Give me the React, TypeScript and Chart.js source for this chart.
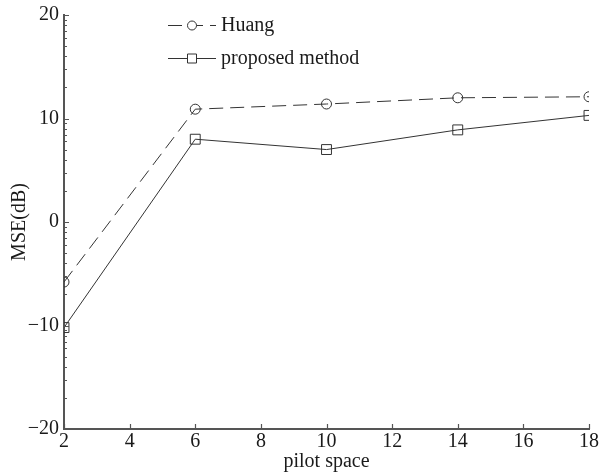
import React, { useEffect, useRef } from "react";
import { Chart, registerables } from "chart.js";

Chart.register(...registerables);

const pilotSpace = [2, 6, 10, 14, 18];
const huang = [-5.8, 10.9, 11.4, 12.0, 12.1];
const proposed = [-10.2, 8.0, 7.0, 8.9, 10.3];
const seriesNames = ["Huang", "proposed method"];
const xTicks = [2, 4, 6, 8, 10, 12, 14, 16, 18];
const yTicks = [-20, -10, 0, 10, 20];

const FONT = "'Liberation Serif', 'DejaVu Serif', serif";
const AXIS = "#555555";
const INK = "#1a1a1a";

const tickPlugin = {
  id: "matlabTicks",
  afterDraw(chart: any) {
    const ctx = chart.ctx;
    const x = chart.scales.x;
    const y = chart.scales.y;
    const area = chart.chartArea;
    ctx.save();
    ctx.strokeStyle = AXIS;
    ctx.lineWidth = 1.2;
    ctx.beginPath();
    xTicks.forEach((v) => {
      const px = Math.round(x.getPixelForValue(v)) + 0.5;
      ctx.moveTo(px, area.bottom);
      ctx.lineTo(px, area.bottom - 5);
    });
    for (let i = 0; i < yTicks.length; i++) {
      const py = Math.round(y.getPixelForValue(yTicks[i])) + 0.5;
      ctx.moveTo(area.left, py);
      ctx.lineTo(area.left + 5, py);
      if (i < yTicks.length - 1) {
        const lower = yTicks[i];
        const span = yTicks[i + 1] - yTicks[i];
        for (let n = 2; n <= 9; n++) {
          const mv = lower + span * Math.log10(n);
          const my = Math.round(y.getPixelForValue(mv)) + 0.5;
          ctx.moveTo(area.left, my);
          ctx.lineTo(area.left + 3, my);
        }
      }
    }
    ctx.stroke();

    // legend
    const items = chart.data.datasets;
    const lx0 = 168;
    const lx1 = 216;
    const rowY = [25, 58];
    items.forEach((ds: any, i: number) => {
      const yy = rowY[i] + 0.5;
      ctx.strokeStyle = ds.borderColor;
      ctx.lineWidth = ds.borderWidth;
      ctx.setLineDash(ds.borderDash || []);
      ctx.beginPath();
      ctx.moveTo(lx0, yy);
      ctx.lineTo(lx1, yy);
      ctx.stroke();
      ctx.setLineDash([]);
      const cx = (lx0 + lx1) / 2;
      ctx.fillStyle = "#ffffff";
      ctx.beginPath();
      if (ds.pointStyle === "circle") {
        ctx.arc(cx, yy, 4.5, 0, Math.PI * 2);
      } else {
        ctx.rect(cx - 4.5, yy - 4.5, 9, 9);
      }
      ctx.fill();
      ctx.stroke();
      ctx.fillStyle = INK;
      ctx.font = `20px ${FONT}`;
      ctx.textBaseline = "middle";
      ctx.textAlign = "left";
      ctx.fillText(ds.label, 221, yy);
    });
    ctx.restore();
  },
};

export default function App() {
  const ref = useRef<HTMLCanvasElement>(null);
  useEffect(() => {
    const chart = new Chart(ref.current!, {
      type: "line",
      data: {
        labels: pilotSpace,
        datasets: [
          {
            label: seriesNames[0],
            data: pilotSpace.map((p, i) => ({ x: p, y: huang[i] })),
            borderColor: "#333333",
            borderWidth: 1,
            borderDash: [14, 7],
            pointStyle: "circle",
            pointRadius: 5,
            pointBackgroundColor: "rgba(255,255,255,0)",
            pointBorderColor: "#333333",
            pointBorderWidth: 1,
            tension: 0,
          },
          {
            label: seriesNames[1],
            data: pilotSpace.map((p, i) => ({ x: p, y: proposed[i] })),
            borderColor: "#333333",
            borderWidth: 1,
            pointStyle: "rect",
            pointRadius: 7,
            pointBackgroundColor: "rgba(255,255,255,0)",
            pointBorderColor: "#333333",
            pointBorderWidth: 1,
            tension: 0,
          },
        ],
      },
      options: {
        animation: false,
        responsive: false,
        layout: { padding: { top: 15, right: 12, left: 0, bottom: 0 } },
        plugins: { legend: { display: false }, tooltip: { enabled: false } },
        scales: {
          x: {
            type: "linear",
            min: 2,
            max: 18,
            afterBuildTicks: (s: any) => {
              s.ticks = xTicks.map((v) => ({ value: v }));
            },
            afterFit: (s: any) => {
              s.height = 47;
              s.paddingLeft = 0;
              s.paddingRight = 0;
            },
            grid: { display: false, drawTicks: false },
            border: { display: true, color: AXIS, width: 2 },
            ticks: {
              color: INK,
              font: { family: FONT, size: 20 },
              padding: 1,
              maxRotation: 0,
              autoSkip: false,
            },
            title: {
              display: true,
              text: "pilot space",
              color: INK,
              font: { family: FONT, size: 20 },
              padding: { top: 0, bottom: 2 },
            },
          },
          y: {
            type: "linear",
            min: -20,
            max: 20,
            afterBuildTicks: (s: any) => {
              s.ticks = yTicks.map((v) => ({ value: v }));
            },
            afterFit: (s: any) => {
              s.width = 64;
              s.paddingTop = 0;
              s.paddingBottom = 0;
            },
            grid: { display: false, drawTicks: false },
            border: { display: true, color: AXIS, width: 2 },
            ticks: {
              color: INK,
              font: { family: FONT, size: 20 },
              padding: 5,
              callback: (v: any) => String(v).replace("-", "\u2212"),
            },
            title: {
              display: true,
              text: "MSE(dB)",
              color: INK,
              font: { family: FONT, size: 20 },
              padding: { top: 8, bottom: 0 },
            },
          },
        },
      },
      plugins: [tickPlugin],
    } as any);
    return () => chart.destroy();
  }, []);
  return (
    <div style={{ position: "fixed", left: 0, top: 0, width: 601, height: 476, background: "#fff" }}>
      <canvas ref={ref} width={601} height={476} style={{ display: "block" }} />
    </div>
  );
}
